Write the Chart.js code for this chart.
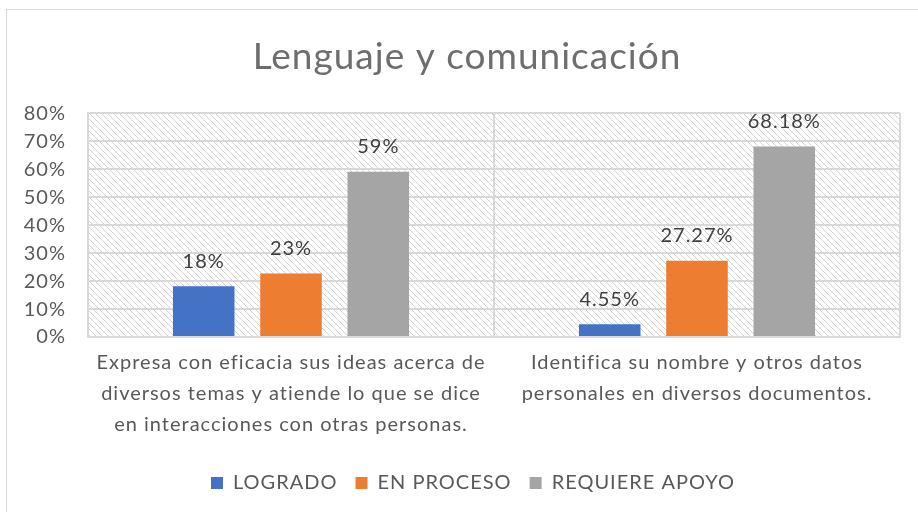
<!DOCTYPE html>
<html>
<head>
<meta charset="utf-8">
<script src="https://cdn.jsdelivr.net/npm/chart.js@4"></script>
<style>
  body { margin: 0; background: #fff; }
  #wrap { width: 918px; height: 512px; }
</style>
</head>
<body>
<div id="wrap"><canvas id="chart" width="918" height="512"></canvas></div>
<script>
// datos
const categorias = [
    ['Expresa con eficacia sus ideas acerca de', 'diversos temas y atiende lo que se dice', 'en interacciones con otras personas.'],
    ['Identifica su nombre y otros datos', 'personales en diversos documentos.']
];
const logrado = [18.18, 4.55];
const enProceso = [22.73, 27.27];
const requiereApoyo = [59.09, 68.18];
const decimales = [0, 2];   // como aparecen las etiquetas en cada grupo
const ticksY = [0, 10, 20, 30, 40, 50, 60, 70, 80];

const fuente = 'Lato, "Open Sans", sans-serif';

// fondo rayado del area de trazado
function rayado() {
    const c = document.createElement('canvas');
    c.width = 6; c.height = 6;
    const g = c.getContext('2d');
    g.strokeStyle = '#d4d4d4';
    g.lineWidth = 1;
    g.beginPath();
    g.moveTo(-1, -1); g.lineTo(7, 7);
    g.moveTo(-1, 5); g.lineTo(1, 7);
    g.moveTo(5, -1); g.lineTo(7, 1);
    g.stroke();
    return c;
}

// el texto del original es algo mas espaciado
const espaciado = {
    id: 'espaciado',
    beforeLayout(chart) { chart.ctx.letterSpacing = '1px'; },
    beforeDraw(chart) { chart.ctx.letterSpacing = '1px'; },
    afterLayout(chart) {
        // titulo y leyenda van algo mas a la derecha en el original
        chart.titleBlock.left = 34;
        chart.legend.left = 46;
    }
};

const fondo = {
    id: 'fondo',
    beforeDraw(chart) {
        const ctx = chart.ctx;
        const a = chart.chartArea;
        ctx.save();
        ctx.strokeStyle = '#d9d9d9';
        ctx.lineWidth = 1;
        ctx.strokeRect(6.5, 9.5, 930, 520);
        ctx.fillStyle = ctx.createPattern(rayado(), 'repeat');
        ctx.fillRect(a.left, a.top, a.right - a.left, a.bottom - a.top);
        ctx.restore();
    }
};

const etiquetas = {
    id: 'etiquetas',
    afterDatasetsDraw(chart) {
        const ctx = chart.ctx;
        ctx.save();
        ctx.font = '20px ' + fuente;
        ctx.fillStyle = '#404040';
        ctx.textAlign = 'center';
        ctx.textBaseline = 'middle';
        chart.data.datasets.forEach((ds, i) => {
            chart.getDatasetMeta(i).data.forEach((bar, j) => {
                const txt = ds.data[j].toFixed(decimales[j]) + '%';
                ctx.fillText(txt, bar.x, bar.y - 25);
            });
        });
        ctx.restore();
    }
};

new Chart(document.getElementById('chart'), {
    type: 'bar',
    data: {
        labels: categorias,
        datasets: [
            { label: 'LOGRADO', data: logrado, backgroundColor: '#4472c4' },
            { label: 'EN PROCESO', data: enProceso, backgroundColor: '#ed7d31' },
            { label: 'REQUIERE APOYO', data: requiereApoyo, backgroundColor: '#a5a5a5' }
        ]
    },
    options: {
        responsive: false,
        animation: false,
        layout: { padding: { left: 0, right: 18, top: 0, bottom: 9 } },
        datasets: { bar: { categoryPercentage: 0.645, barPercentage: 0.705 } },
        plugins: {
            title: {
                display: true,
                text: 'Lenguaje y comunicación',
                color: '#6e6e6e',
                font: { family: fuente, size: 37, weight: 'normal' },
                padding: { top: 35, bottom: 34 }
            },
            legend: {
                position: 'bottom',
                labels: {
                    boxWidth: 12, boxHeight: 12, padding: 18,
                    color: '#595959',
                    font: { family: fuente, size: 20 }
                }
            },
            tooltip: { enabled: false }
        },
        scales: {
            x: {
                grid: { offset: true, color: '#d9d9d9', lineWidth: 2, drawTicks: false },
                border: { color: '#d9d9d9', width: 2 },
                ticks: { color: '#595959', font: { family: fuente, size: 20, lineHeight: 1.55 }, padding: 10, maxRotation: 0, autoSkip: false },
                afterFit(s) { s.height = 118; }
            },
            y: {
                min: 0, max: 80,
                afterBuildTicks(s) { s.ticks = ticksY.map(v => ({ value: v })); },
                grid: { color: '#d9d9d9', lineWidth: 2, drawTicks: false },
                border: { color: '#d9d9d9', width: 2 },
                ticks: { color: '#595959', font: { family: fuente, size: 20 }, padding: 22, callback: v => v + '%' },
                afterFit(s) { s.width = 88; }
            }
        }
    },
    plugins: [espaciado, fondo, etiquetas]
});
</script>
</body>
</html>
